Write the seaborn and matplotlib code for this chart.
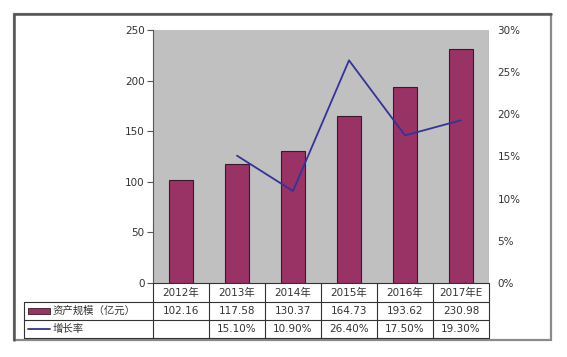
import numpy as np
import pandas as pd
import seaborn as sns
import matplotlib.pyplot as plt
from matplotlib.lines import Line2D
from matplotlib.patches import Rectangle
from matplotlib.ticker import FuncFormatter

years = ["2012年", "2013年", "2014年", "2015年", "2016年", "2017年E"]
assets = [102.16, 117.58, 130.37, 164.73, 193.62, 230.98]
growth = [np.nan, 15.10, 10.90, 26.40, 17.50, 19.30]
bar_label = "资产规模（亿元）"
line_label = "增长率"

sns.set_style("white")
plt.rcParams['font.family'] = ['DejaVu Sans', 'Noto Sans CJK SC']

W, H = 567, 357
bar_color = "#993366"
line_color = "#333399"
txt_color = "#333333"

df = pd.DataFrame({"year": years, "assets": assets, "growth": growth, "pos": np.arange(len(years))})

fig = plt.figure(figsize=(W / 100, H / 100), dpi=100)
ax = fig.add_axes([153 / W, 1 - 283 / H, (489 - 153) / W, (283 - 30) / H])
ax.set_facecolor("#c0c0c0")

sns.barplot(data=df, x="year", y="assets", color=bar_color, width=0.43,
            edgecolor="#3a1a28", linewidth=0.8, saturation=1, ax=ax)
ax.set_ylim(0, 250)
ax.set_yticks(range(0, 251, 50))
ax.set_xlim(-0.5, len(years) - 0.5)
ax.set_xlabel("")
ax.set_ylabel("")
ax.set_xticks([])
for s in ["top", "right", "bottom"]:
    ax.spines[s].set_visible(False)
ax.spines["left"].set_color("#555555")
ax.tick_params(axis="y", direction="out", length=4, width=0.8, color="#555555",
               labelsize=7.5, labelcolor=txt_color, left=True, pad=2)

ax2 = ax.twinx()
sns.lineplot(data=df, x="pos", y="growth", color=line_color, linewidth=1.3, ax=ax2)
ax2.set_ylim(0, 30)
ax2.set_yticks(range(0, 31, 5))
ax2.yaxis.set_major_formatter(FuncFormatter(lambda v, p: f"{v:.0f}%"))
ax2.set_xlim(-0.5, len(years) - 0.5)
ax2.set_xlabel("")
ax2.set_ylabel("")
for s in ax2.spines.values():
    s.set_visible(False)
ax2.tick_params(axis="y", length=0, labelsize=7.5, labelcolor=txt_color, pad=6)

# outer chart frame (darker top/left like the Excel border)
fig.add_artist(Rectangle((14 / W, 1 - 340 / H), (551 - 14) / W, (340 - 14) / H,
                         transform=fig.transFigure, fill=False,
                         edgecolor="#8a8a8a", linewidth=1.6))
fig.add_artist(Line2D([14 / W, 14 / W, 551 / W], [1 - 340 / H, 1 - 14 / H, 1 - 14 / H],
                      transform=fig.transFigure, color="#555555", linewidth=1.8))


def hline(x0, x1, y):
    fig.add_artist(Line2D([x0 / W, x1 / W], [1 - y / H, 1 - y / H],
                          transform=fig.transFigure, color="#333333", linewidth=0.8))


def vline(x, y0, y1):
    fig.add_artist(Line2D([x / W, x / W], [1 - y0 / H, 1 - y1 / H],
                          transform=fig.transFigure, color="#333333", linewidth=0.8))


def cell_text(x, y, s, ha="center", size=7.5):
    fig.text(x / W, 1 - y / H, s, ha=ha, va="center", fontsize=size, color=txt_color)


# data table under the plot
col_w = (489 - 153) / len(years)
edges = [153 + i * col_w for i in range(len(years) + 1)]
hline(153, 489, 283)
hline(24, 489, 302)
hline(24, 489, 320)
hline(24, 489, 338)
vline(24, 302, 338)
for e in edges:
    vline(e, 283, 338)

for i, yr in enumerate(years):
    cx = (edges[i] + edges[i + 1]) / 2
    cell_text(cx, 292.5, yr)
    cell_text(cx, 311, f"{assets[i]:.2f}")
    if not np.isnan(growth[i]):
        cell_text(cx, 329, f"{growth[i]:.2f}%")

fig.add_artist(Rectangle((28 / W, 1 - 314 / H), 22 / W, 6 / H, transform=fig.transFigure,
                         facecolor=bar_color, edgecolor="#3a1a28", linewidth=0.6))
cell_text(53, 311, bar_label, ha="left", size=7.5)
fig.add_artist(Line2D([28 / W, 50 / W], [1 - 329 / H, 1 - 329 / H],
                      transform=fig.transFigure, color=line_color, linewidth=1.3))
cell_text(53, 329, line_label, ha="left", size=7.5)

plt.savefig("out.png", dpi=100)
